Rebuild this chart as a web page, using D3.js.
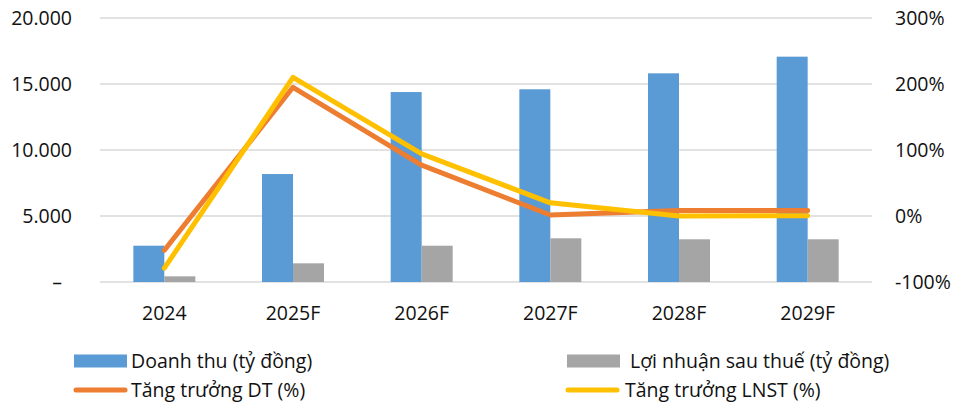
<!DOCTYPE html>
<html><head><meta charset="utf-8">
<script src="https://cdn.jsdelivr.net/npm/d3@7"></script>
<style>body{margin:0;background:#fff}svg{display:block}text{font-family:"Open Sans",sans-serif;fill:#111}</style>
</head><body><svg id="c" width="964" height="403"></svg>
<script>
const categories = ["2024","2025F","2026F","2027F","2028F","2029F"];
const revenue = [2750,8180,14390,14600,15810,17070];
const profit = [430,1415,2750,3310,3235,3235];
const revGrowth = [-0.52,1.95,0.77,0.015,0.083,0.083];
const profGrowth = [-0.79,2.10,0.94,0.20,0.0,0.005];
const leftTicks = [0,5000,10000,15000,20000];
const rightTicks = [-1,0,1,2,3];
const seriesNames = ["Doanh thu (tỷ đồng)","Lợi nhuận sau thuế (tỷ đồng)","Tăng trưởng DT (%)","Tăng trưởng LNST (%)"];
const colors = {rev:"#5B9BD5",prof:"#A5A5A5",revG:"#ED7D31",profG:"#FFC000"};

const svg = d3.select("#c");
const L=100,R=872,T=18,B=282;
const x = d3.scaleBand().domain(categories).range([L,R]);
const y = d3.scaleLinear().domain([0,20000]).range([B,T]);
const y2 = d3.scaleLinear().domain([-1,3]).range([B,T]);
const bw = 31;
const txtCol = "#111";

svg.append("g").selectAll("line").data(leftTicks).join("line")
 .attr("x1",L).attr("x2",R).attr("y1",d=>y(d)).attr("y2",d=>y(d))
 .attr("stroke","#D9D9D9").attr("stroke-width",1.5);

const fmt = d=> d===0?"–":d3.format(",")(d).replace(/,/g,".");
const la = svg.append("g").attr("transform",`translate(72,0)`)
 .call(d3.axisLeft(y).tickValues(leftTicks).tickSize(0).tickPadding(0).tickFormat(fmt));
la.select(".domain").remove();
la.selectAll("text").attr("font-size",19.5).attr("font-family","'Open Sans',sans-serif").attr("fill",txtCol);
la.selectAll(".tick").filter(d=>d===0).select("text").attr("dx",-10);

const ra = svg.append("g").attr("transform",`translate(895,0)`)
 .call(d3.axisRight(y2).tickValues(rightTicks).tickSize(0).tickPadding(0).tickFormat(d=>d3.format(".0%")(d).replace("−","-")));
ra.select(".domain").remove();
ra.selectAll("text").attr("font-size",19.5).attr("font-family","'Open Sans',sans-serif").attr("fill",txtCol);

const xa = svg.append("g").attr("transform",`translate(0,${B})`)
 .call(d3.axisBottom(x).tickSize(0).tickPadding(24));
xa.select(".domain").remove();
xa.selectAll("text").attr("font-size",19.5).attr("font-family","'Open Sans',sans-serif").attr("fill",txtCol);

const cx = d=>x(d)+x.bandwidth()/2;
svg.append("g").selectAll("rect").data(categories).join("rect")
 .attr("x",d=>cx(d)-bw).attr("width",bw)
 .attr("y",(d,i)=>y(revenue[i])).attr("height",(d,i)=>y(0)-y(revenue[i]))
 .attr("fill",colors.rev);
svg.append("g").selectAll("rect").data(categories).join("rect")
 .attr("x",d=>cx(d)).attr("width",bw)
 .attr("y",(d,i)=>y(profit[i])).attr("height",(d,i)=>y(0)-y(profit[i]))
 .attr("fill",colors.prof);

const line = d3.line().x((d,i)=>cx(categories[i])).y(d=>y2(d));
svg.append("path").datum(revGrowth).attr("d",line).attr("fill","none")
 .attr("stroke",colors.revG).attr("stroke-width",5).attr("stroke-linecap","round").attr("stroke-linejoin","round");
svg.append("path").datum(profGrowth).attr("d",line).attr("fill","none")
 .attr("stroke",colors.profG).attr("stroke-width",5).attr("stroke-linecap","round").attr("stroke-linejoin","round");

// legend
const lg = svg.append("g");
const items = [
 {t:seriesNames[0],type:"rect",c:colors.rev,x:74,y:361,tx:131},
 {t:seriesNames[1],type:"rect",c:colors.prof,x:567,y:361,tx:630},
 {t:seriesNames[2],type:"line",c:colors.revG,x:74,y:390,tx:131},
 {t:seriesNames[3],type:"line",c:colors.profG,x:566,y:390,tx:625}
];
items.forEach(it=>{
 if(it.type==="rect") lg.append("rect").attr("x",it.x).attr("y",it.y-6.5).attr("width",53).attr("height",13).attr("fill",it.c);
 else lg.append("line").attr("x1",it.x+2).attr("x2",it.x+51).attr("y1",it.y).attr("y2",it.y).attr("stroke",it.c).attr("stroke-width",5).attr("stroke-linecap","round");
 lg.append("text").attr("x",it.tx).attr("y",it.y).attr("dy","0.35em").attr("font-size",19.5).attr("fill",txtCol).text(it.t);
});
</script></body></html>
